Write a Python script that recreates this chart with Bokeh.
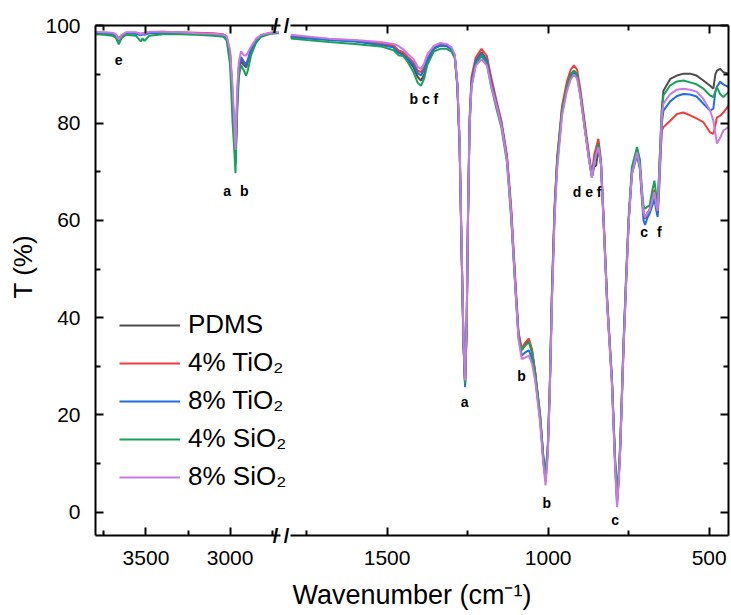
import math
from bokeh.plotting import figure
from bokeh.models import (Range1d, LinearAxis, FixedTicker, Legend, LegendItem,
                          Label, Title, ColumnDataSource)
from bokeh.layouts import row
from bokeh.embed import file_html
from bokeh.resources import INLINE
from bokeh.core.properties import value

FONT = "Liberation Sans"

# ---------------- data ----------------
series_names = ["PDMS", "4% TiO\u2082", "8% TiO\u2082", "4% SiO\u2082", "8% SiO\u2082"]
series_colors = ["#4d4d4d", "#f03c3c", "#1f6fdd", "#19a05c", "#c87ae3"]

# high-wavenumber segment (3800-2700 cm-1)
wn_high = [3800, 3750, 3700, 3680, 3662, 3645, 3620, 3560, 3530, 3520, 3510, 3480, 3400,
           3300, 3200, 3100, 3040, 3020, 3000, 2985, 2975, 2968, 2958, 2948, 2935, 2920,
           2905, 2895, 2875, 2845, 2815, 2760, 2710]
pdms_high = [98.6, 98.5, 98.4, 98.1, 97.0, 97.9, 98.5, 98.5, 98.2, 98.4, 98.3, 98.6, 98.6,
             98.5, 98.4, 98.3, 98.1, 97.6, 94.0, 85.0, 77.0, 71.5, 84.0, 91.0, 92.8, 92.0,
             91.5, 92.5, 95.0, 97.0, 98.0, 98.5, 98.6]
tio2_4_high = [98.6, 98.6, 98.5, 98.3, 97.5, 98.1, 98.6, 98.6, 98.4, 98.5, 98.5, 98.7, 98.8,
               98.7, 98.6, 98.5, 98.3, 97.8, 94.5, 86.0, 78.0, 72.5, 85.0, 91.5, 93.3, 92.6,
               92.2, 93.0, 95.3, 97.2, 98.1, 98.6, 98.6]
tio2_8_high = [98.5, 98.4, 98.3, 98.0, 96.9, 97.9, 98.5, 98.4, 98.1, 98.3, 98.2, 98.5, 98.5,
               98.4, 98.3, 98.2, 98.0, 97.5, 94.0, 85.5, 77.5, 72.0, 84.5, 91.5, 93.6, 92.8,
               91.9, 92.8, 95.2, 97.1, 98.0, 98.5, 98.6]
sio2_4_high = [98.3, 98.2, 98.0, 97.6, 96.2, 97.5, 98.2, 98.0, 96.8, 97.5, 96.9, 98.0, 98.3,
               98.3, 98.2, 98.0, 97.8, 97.0, 92.0, 80.0, 74.5, 69.7, 82.0, 89.5, 91.9, 91.0,
               89.8, 90.8, 94.0, 96.6, 97.8, 98.4, 98.5]
sio2_8_high = [98.8, 98.7, 98.6, 98.3, 97.2, 98.1, 98.7, 98.7, 98.3, 98.5, 98.4, 98.8, 98.8,
               98.7, 98.5, 98.4, 98.2, 97.9, 95.0, 87.5, 80.0, 74.5, 87.0, 92.5, 94.8, 94.0,
               93.9, 94.5, 95.8, 97.4, 98.2, 98.6, 98.7]

# low-wavenumber segment (1800-440 cm-1)
wn_low = [1800, 1680, 1600, 1520, 1480, 1465, 1450, 1435, 1418, 1405,
          1395, 1385, 1375, 1355, 1335, 1315, 1300, 1290, 1282, 1275,
          1269, 1263, 1258, 1253, 1249, 1244, 1238, 1225, 1207, 1190,
          1178, 1160, 1145, 1128, 1115, 1102, 1092, 1082, 1072, 1060,
          1050, 1040, 1025, 1015, 1008, 1001, 995, 988, 980, 972,
          957, 942, 930, 920, 910, 900, 885, 872, 864, 857,
          851, 844, 836, 828, 817, 802, 792, 786, 781, 776,
          766, 758, 750, 740, 724, 715, 709, 704, 699, 692,
          685, 677, 670, 664, 660, 654, 647, 642, 621, 600,
          580, 559, 539, 518, 497, 487, 481, 476, 466, 456, 440]
pdms_low = [97.8, 97.2, 96.9, 96.2, 95.7, 94.6, 94.2, 93.0, 91.5, 89.5,
            88.8, 90.0, 92.6, 95.3, 96.0, 95.9, 95.2, 93.8, 88.0, 76.0,
            55.0, 35.0, 26.3, 38.0, 60.0, 80.0, 88.5, 92.8, 94.6, 93.0,
            89.0, 84.0, 80.0, 73.0, 62.0, 47.0, 36.5, 33.4, 34.5, 35.3,
            33.0, 28.5, 19.5, 11.0, 6.8, 13.0, 25.0, 45.0, 62.0, 72.0,
            82.5, 87.5, 90.0, 90.8, 90.0, 86.0, 78.5, 72.3, 69.0, 71.0,
            71.3, 74.7, 71.6, 60.0, 43.5, 27.0, 10.0, 2.5, 7.0, 13.5,
            34.0, 47.5, 60.0, 70.0, 74.0, 71.0, 65.5, 61.5, 60.5, 61.5,
            62.0, 64.0, 65.8, 63.0, 61.5, 72.0, 83.0, 86.7, 89.1, 89.8,
            90.2, 90.2, 89.8, 88.8, 87.7, 87.1, 90.0, 90.8, 91.2, 90.5, 90.2]
tio2_4_low = [97.9, 97.3, 97.0, 96.4, 96.0, 95.0, 94.6, 93.6, 92.5, 90.8,
              90.5, 91.5, 93.3, 95.5, 96.1, 96.0, 95.3, 93.9, 88.0, 76.0,
              55.0, 35.0, 26.5, 38.5, 60.5, 81.0, 89.5, 93.5, 95.3, 93.8,
              89.8, 84.5, 80.4, 73.5, 63.0, 48.0, 37.0, 33.6, 34.8, 35.7,
              33.5, 28.8, 20.0, 11.5, 7.2, 13.5, 25.5, 46.0, 63.0, 73.0,
              83.5, 88.5, 91.0, 91.9, 91.0, 87.0, 79.5, 73.0, 69.5, 73.5,
              75.0, 76.8, 72.5, 61.0, 44.0, 27.5, 10.5, 3.1, 7.5, 14.0,
              34.5, 48.0, 60.0, 70.0, 74.0, 71.0, 65.5, 61.5, 60.3, 61.5,
              62.3, 64.5, 66.3, 63.0, 61.5, 70.0, 78.5, 79.2, 80.5, 81.9,
              82.2, 81.6, 81.0, 80.2, 78.1, 77.8, 79.5, 81.2, 81.5, 82.2, 83.6]
tio2_8_low = [97.7, 97.1, 96.8, 96.1, 95.6, 94.5, 94.0, 93.2, 92.0, 90.3,
              89.8, 91.0, 93.0, 95.4, 96.0, 95.9, 95.2, 93.8, 88.0, 76.0,
              55.0, 35.0, 25.7, 38.0, 60.0, 80.0, 88.5, 92.8, 94.3, 92.8,
              88.8, 83.7, 79.8, 72.8, 61.5, 46.8, 36.0, 32.2, 32.8, 33.3,
              31.5, 27.5, 19.0, 10.5, 6.5, 12.5, 24.5, 44.5, 61.5, 71.5,
              82.0, 87.0, 89.5, 90.5, 89.5, 85.8, 78.5, 72.3, 69.0, 72.5,
              73.7, 75.2, 71.6, 60.0, 43.0, 26.5, 9.5, 1.8, 6.5, 13.0,
              33.5, 47.0, 59.5, 69.5, 73.4, 70.5, 64.5, 60.0, 59.1, 60.5,
              61.4, 63.0, 64.4, 62.0, 60.7, 68.0, 80.0, 82.6, 84.5, 85.6,
              86.0, 85.9, 85.5, 84.0, 82.6, 83.0, 86.4, 87.5, 88.5, 88.0, 87.4]
sio2_4_low = [97.4, 96.7, 96.3, 95.8, 95.0, 94.0, 93.8, 92.5, 90.5, 88.3,
              87.7, 89.2, 92.0, 94.8, 95.3, 95.3, 94.7, 93.4, 87.5, 75.0,
              54.0, 34.5, 26.4, 37.5, 59.5, 79.0, 87.5, 92.0, 93.9, 92.2,
              87.8, 82.8, 79.0, 72.0, 60.5, 46.0, 36.0, 33.3, 34.2, 35.0,
              32.8, 28.5, 20.0, 11.5, 7.9, 14.0, 26.0, 46.0, 62.5, 72.5,
              82.8, 87.5, 90.0, 90.8, 90.0, 86.0, 78.5, 72.0, 68.8, 72.0,
              74.0, 75.8, 72.0, 60.5, 44.0, 27.5, 11.0, 3.8, 8.0, 14.5,
              35.0, 48.5, 61.0, 71.0, 75.1, 72.5, 66.5, 63.0, 62.4, 62.8,
              63.1, 66.0, 68.2, 65.0, 63.0, 72.0, 82.5, 85.7, 87.8, 88.6,
              88.8, 88.4, 88.0, 87.1, 85.7, 85.4, 86.5, 87.4, 86.0, 85.4, 86.4]
sio2_8_low = [98.2, 97.4, 97.1, 96.7, 96.3, 95.9, 95.2, 94.2, 93.2, 91.6,
              91.2, 92.3, 94.2, 95.9, 96.5, 96.3, 95.6, 94.2, 88.5, 77.0,
              56.0, 36.0, 27.1, 39.0, 60.0, 79.5, 87.5, 91.8, 93.2, 91.8,
              88.0, 83.5, 79.5, 72.5, 61.5, 46.5, 35.5, 31.5, 31.8, 32.2,
              30.5, 27.0, 18.5, 10.0, 5.5, 12.0, 24.0, 43.5, 60.5, 70.5,
              81.5, 86.5, 89.0, 90.0, 89.2, 85.5, 78.0, 72.0, 68.8, 71.8,
              73.5, 75.1, 71.5, 60.0, 43.0, 26.5, 9.0, 1.0, 6.0, 13.0,
              33.5, 47.0, 59.5, 69.5, 74.0, 71.0, 65.5, 61.5, 60.7, 61.5,
              62.0, 64.0, 65.8, 63.0, 62.0, 70.0, 81.5, 84.0, 86.0, 86.9,
              87.1, 86.9, 86.5, 85.0, 82.6, 80.5, 78.0, 75.8, 77.0, 78.5, 79.2]

# peak assignment letters
peak_text_high = ["e", "a", "b"]
peak_wn_high = [3662, 3017, 2916]
peak_t_high = [93.0, 66.1, 66.1]
peak_text_low = ["b c f", "d e f", "c", "f", "a", "b", "b", "c"]
peak_wn_low = [1386, 879, 702, 655, 1259, 1083, 1004, 792]
peak_t_low = [85.0, 65.8, 57.6, 57.6, 22.6, 28.1, 1.85, -1.6]

# axis ticks
x_ticks_high = [3500, 3000]
x_minor_high = [3750, 3250, 2750]
x_ticks_low = [1500, 1000, 500]
x_minor_low = [1750, 1250, 750]
y_ticks = [0, 20, 40, 60, 80, 100]
y_minor = [10, 30, 50, 70, 90]

# axis limits of the two segments (the break lies between 2700 and 1800)
x_lim_high = (3800, 2700)
x_lim_low = (1800, 440)
y_lim = (-4.8, 100.1)
break_wn = 2697      # centre of the break marks, on the high-wavenumber scale
xtitle_pos = (1423, -17.1)   # centre of the x-axis title, on the low-wavenumber scale

high_series = [pdms_high, tio2_4_high, tio2_8_high, sio2_4_high, sio2_8_high]
low_series = [pdms_low, tio2_4_low, tio2_8_low, sio2_4_low, sio2_8_low]

# ---------------- layout (pixels) ----------------
H = 615
LEFT_BORDER = 94
SEG1_DATA_W = 186     # width of the high-wavenumber axis
SEG1_FRAME_W = 196    # frame of first panel reaches into the break gap
SEG2_FRAME_W = 438
RIGHT_BORDER = 3

x1_end = x_lim_high[0] - (x_lim_high[0] - x_lim_high[1]) * SEG1_FRAME_W / SEG1_DATA_W


def style_axis(ax, labels=True):
    ax.axis_line_width = 2
    ax.axis_line_color = "black"
    ax.major_tick_in = 8
    ax.major_tick_out = 0
    ax.minor_tick_in = 5
    ax.minor_tick_out = 0
    ax.major_tick_line_width = 2
    ax.minor_tick_line_width = 2
    ax.major_tick_line_color = "black"
    ax.minor_tick_line_color = "black"
    ax.major_label_text_font = FONT
    if labels:
        ax.major_label_text_color = "black"
        ax.major_label_text_font_size = "21px"
        ax.major_label_standoff = 15
    else:
        ax.major_label_text_color = None
        ax.major_label_text_font_size = "1px"
        ax.major_label_standoff = 0


def base_fig(xr, width, mbl, mbr):
    p = figure(width=width, height=H, x_range=Range1d(*xr), y_range=Range1d(*y_lim),
               output_backend="svg", toolbar_location=None,
               x_axis_location=None, y_axis_location=None,
               min_border_left=mbl, min_border_right=mbr,
               min_border_top=25, min_border_bottom=80)
    p.outline_line_color = None
    p.grid.grid_line_color = None
    p.background_fill_color = "white"
    p.border_fill_color = "white"
    return p


p1 = base_fig((x_lim_high[0], x1_end), LEFT_BORDER + SEG1_FRAME_W, LEFT_BORDER, 0)
p2 = base_fig(x_lim_low, SEG2_FRAME_W + RIGHT_BORDER, 0, RIGHT_BORDER)

# axes of high segment (spines end at the break)
ax = LinearAxis(ticker=FixedTicker(ticks=y_ticks, minor_ticks=y_minor))
style_axis(ax)
p1.add_layout(ax, "left")
ax = LinearAxis(ticker=FixedTicker(ticks=x_ticks_high, minor_ticks=x_minor_high),
                bounds=(x_lim_high[1], x_lim_high[0]))
style_axis(ax)
p1.add_layout(ax, "below")
ax = LinearAxis(ticker=FixedTicker(ticks=x_ticks_high, minor_ticks=x_minor_high),
                bounds=(x_lim_high[1], x_lim_high[0]))
style_axis(ax, labels=False)
p1.add_layout(ax, "above")

# axes of low segment
ax = LinearAxis(ticker=FixedTicker(ticks=x_ticks_low, minor_ticks=x_minor_low))
style_axis(ax)
p2.add_layout(ax, "below")
ax = LinearAxis(ticker=FixedTicker(ticks=x_ticks_low, minor_ticks=x_minor_low))
style_axis(ax, labels=False)
p2.add_layout(ax, "above")
ax = LinearAxis(ticker=FixedTicker(ticks=y_ticks, minor_ticks=y_minor))
style_axis(ax, labels=False)
p2.add_layout(ax, "right")

renderers = []
for name, color, yh, yl in zip(series_names, series_colors, high_series, low_series):
    r = p1.line(wn_high, yh, line_color=color, line_width=2)
    p2.line(wn_low, yl, line_color=color, line_width=2)
    renderers.append(r)

# peak letters
src_h = ColumnDataSource(dict(x=peak_wn_high, y=peak_t_high, t=peak_text_high))
p1.text(x="x", y="y", text="t", source=src_h, text_font=value(FONT), text_font_style="bold",
        text_font_size="14px", text_align="center", text_baseline="middle", text_color="black")
src_l = ColumnDataSource(dict(x=peak_wn_low, y=peak_t_low, t=peak_text_low))
p2.text(x="x", y="y", text="t", source=src_l, text_font=value(FONT), text_font_style="bold",
        text_font_size="14px", text_align="center", text_baseline="middle", text_color="black")

# legend
legend = Legend(items=[LegendItem(label=n, renderers=[r]) for n, r in zip(series_names, renderers)],
                location=(24, 43), orientation="vertical")
legend.label_text_font = FONT
legend.label_text_font_size = "26px"
legend.label_text_color = "black"
legend.glyph_width = 61
legend.glyph_height = 30
legend.label_height = 30
legend.label_standoff = 8
legend.spacing = 7
legend.padding = 0
legend.margin = 0
legend.border_line_color = None
legend.background_fill_alpha = 0
p1.add_layout(legend)

# axis titles
p1.add_layout(Title(text="T (%)", align="left", offset=237, standoff=10,
                    text_font=FONT, text_font_size="26px", text_font_style="normal",
                    text_color="black"), "left")
p2.add_layout(Label(x=xtitle_pos[0], y=xtitle_pos[1], text="Wavenumber (cm\u207b\u00b9)",
                    text_font=FONT, text_font_size="27px", text_align="center",
                    text_baseline="middle", text_color="black"), "below")

# axis break marks on top and bottom spine
for side, by in (("above", y_lim[1]), ("below", y_lim[0])):
    p1.add_layout(Label(x=break_wn, y=by, text="/ /", text_font=FONT, text_font_size="20px",
                        text_font_style="bold", text_line_height=0.8,
                        text_align="center", text_baseline="middle", text_color="black"), side)

layout = row(p1, p2, spacing=0)
open("out.html", "w").write(file_html(layout, INLINE))
